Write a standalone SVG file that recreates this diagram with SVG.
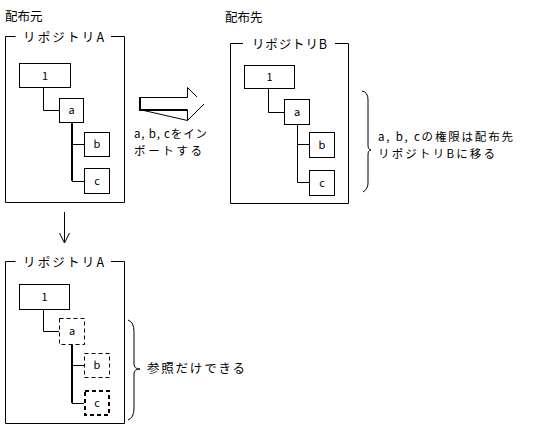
<svg xmlns="http://www.w3.org/2000/svg" width="534" height="429" viewBox="0 0 534 429">
<style>
text{font-family:"Noto Sans CJK JP","DejaVu Sans",sans-serif;fill:#000}
.t{font-size:12.5px}
.t2{font-size:11.5px}
.n{font-size:11px;text-anchor:middle}
.box{fill:#fff;stroke:#000;stroke-width:1}
.dash{fill:#fff;stroke:#000;stroke-width:1;stroke-dasharray:4 3}
.dash2{fill:#fff;stroke:#000;stroke-width:2;stroke-dasharray:4 3}
.ln{fill:none;stroke:#000;stroke-width:1}
.thk{fill:none;stroke:#000;stroke-width:2}
</style>
<rect width="534" height="429" fill="#fff"/>
<text class="t" x="5" y="21">配布元</text>
<text class="t" x="225" y="22">配布先</text>
<g id="frameA">
<path class="ln" d="M15.5,36.5 H5.5 V202.5 H124.5 V36.5 H111"/>
<text class="t" x="23" y="42" textLength="81">リポジトリA</text>
</g>
<g id="frameB">
<path class="ln" d="M243,43.5 H230.5 V203.5 H348.5 V43.5 H335"/>
<text class="t" x="252" y="49" textLength="75">リポジトリB</text>
</g>
<g id="frameA2">
<path class="ln" d="M15.5,261.5 H5.5 V423.5 H124.5 V261.5 H111"/>
<text class="t" x="23" y="267" textLength="81">リポジトリA</text>
</g>
<g id="connectors">
<path class="ln" d="M43.5,87 V110.5 H59"/>
<path class="thk" d="M72,122 V181"/>
<path class="ln" d="M72,144.5 H84 M72,181.5 H84"/>
<path class="ln" d="M268.5,88 V112.5 H284"/>
<path class="ln" d="M297.5,124 V182.5 H309 M297.5,144.5 H309"/>
<path class="ln" d="M43.5,309 V331.5 H59"/>
<path class="thk" d="M72,344 V403"/>
<path class="ln" d="M72,365.5 H84 M72,403.5 H84"/>
<path class="ln" d="M64.5,212 V243 M59.5,233 L64.5,243 L69.5,233"/>
</g>
<g id="bigArrow">
<path class="ln" d="M139.5,97.5 H187.5 V87.5 L197,97 M187.5,120.5 V109.5 H139.5 Z M187.5,120.5 L204,104"/>
<path class="thk" d="M140,97 V110 H187"/>
</g>
<g id="nodeA1"><rect class="box" x="19.5" y="63.5" width="51" height="24"/><text class="n" x="45" y="80">1</text></g>
<g id="nodeAa"><rect class="box" x="59.5" y="98.5" width="24" height="24"/><text class="n" x="71.5" y="114">a</text></g>
<g id="nodeAb"><rect class="box" x="84.5" y="132.5" width="25" height="24"/><text class="n" x="97" y="148">b</text></g>
<g id="nodeAc"><rect class="box" x="84.5" y="168.5" width="25" height="25"/><text class="n" x="97" y="185">c</text></g>
<g id="nodeB1"><rect class="box" x="244.5" y="65.5" width="50" height="23"/><text class="n" x="269.5" y="81">1</text></g>
<g id="nodeBa"><rect class="box" x="284.5" y="99.5" width="25" height="25"/><text class="n" x="297" y="116">a</text></g>
<g id="nodeBb"><rect class="box" x="309.5" y="132.5" width="25" height="25"/><text class="n" x="322" y="149">b</text></g>
<g id="nodeBc"><rect class="box" x="309.5" y="170.5" width="25" height="25"/><text class="n" x="322" y="187">c</text></g>
<g id="nodeC1"><rect class="box" x="19.5" y="284.5" width="50" height="25"/><text class="n" x="44.5" y="301">1</text></g>
<g id="nodeCa"><rect class="dash" x="59.5" y="318.5" width="25" height="26"/><text class="n" x="72" y="335">a</text></g>
<g id="nodeCb"><rect class="dash" x="84.5" y="353.5" width="25" height="24"/><text class="n" x="97" y="369">b</text></g>
<g id="nodeCc"><rect class="dash2" x="85" y="391" width="24" height="24"/><text class="n" x="97" y="407">c</text></g>
<g id="braceB">
<path class="ln" d="M362,91 Q368,92 368,100 V145 Q368,150 371,150 Q368,150 368,155 V183 Q368,189 363,192"/>
</g>
<g id="braceA2">
<path class="ln" d="M128,320 Q134,322 134,332 V364 Q134,369 140,369 Q134,369 134,374 V408 Q134,418 128,420"/>
</g>
<text class="t2" x="134" y="138" textLength="73">a, b, cをイン</text>
<text class="t2" x="134" y="155" textLength="68">ポートする</text>
<text class="t2" x="378" y="141" textLength="135">a, b, cの権限は配布先</text>
<text class="t2" x="378" y="157.5" textLength="117">リポジトリBに移る</text>
<text class="t" x="147" y="373" textLength="98">参照だけできる</text>
</svg>
